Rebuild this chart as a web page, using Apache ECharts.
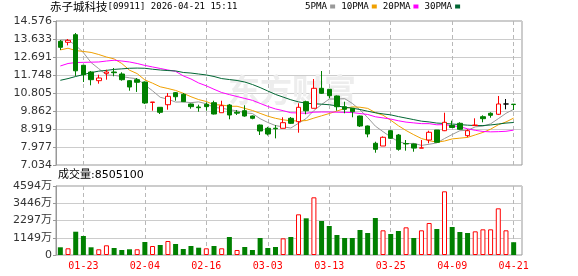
<!DOCTYPE html>
<html><head><meta charset="utf-8">
<script src="https://cdn.jsdelivr.net/npm/echarts@6/dist/echarts.min.js"></script>
<style>html,body{margin:0;padding:0;background:#fff}#c{width:578px;height:276px}</style>
</head><body><div id="c"></div>
<script>
const dates = ['01-20','01-21','01-22','01-23','01-26','01-27','01-28','01-29','01-30','02-02','02-03','02-04','02-05','02-06','02-09','02-10','02-11','02-12','02-13','02-16','02-20','02-23','02-24','02-25','02-26','02-27','03-02','03-03','03-04','03-05','03-06','03-09','03-10','03-11','03-12','03-13','03-16','03-17','03-18','03-19','03-20','03-23','03-24','03-25','03-26','03-27','03-30','03-31','04-01','04-02','04-08','04-09','04-10','04-13','04-14','04-15','04-16','04-17','04-20','04-21'];
const openP  = [13.513,13.46,13.858,12.256,11.905,11.45,11.837,11.905,11.80,11.45,11.502,11.38,10.31,10.056,10.192,10.82,10.737,10.229,10.072,10.213,10.297,9.773,10.176,9.80,9.878,9.60,9.129,8.956,8.96,8.956,9.48,9.302,10.349,10.004,11.051,10.999,10.648,10.087,10.004,9.60,9.077,8.17,8.029,8.83,8.605,8.16,8.134,7.92,8.343,8.867,8.83,9.11,9.218,8.57,9.10,9.564,9.742,9.69,10.229,10.22];
const closeP = [13.198,13.565,11.968,11.763,11.502,11.591,11.905,11.868,11.502,11.119,11.366,10.281,10.334,9.794,10.632,10.61,10.35,10.09,10.035,10.09,9.705,10.14,9.653,9.75,9.60,9.48,8.815,8.658,8.93,9.25,9.218,10.056,9.878,11.051,10.79,10.664,10.087,9.95,9.826,9.077,8.658,7.856,8.485,8.432,7.856,8.14,7.92,7.93,8.747,8.223,9.27,9.0,8.904,8.83,9.129,9.46,9.637,10.229,10.229,10.20];
const lowP   = [13.057,13.30,11.70,11.38,11.208,11.292,11.502,11.68,11.45,10.925,10.86,10.23,9.878,9.705,9.93,10.40,10.33,9.983,9.826,9.878,9.68,9.773,9.428,9.653,9.564,9.428,8.605,8.58,8.43,8.956,9.18,8.726,9.69,10.0,10.753,10.528,9.878,9.742,9.532,9.024,8.485,7.678,8.029,8.396,7.783,7.783,7.73,7.92,8.17,8.223,8.81,9.0,8.87,8.485,9.08,9.27,9.51,9.65,9.95,9.915];
const highP  = [13.58,13.633,13.948,12.27,11.957,11.763,12.025,12.114,11.89,11.485,11.59,11.41,10.334,10.07,10.805,10.857,10.80,10.255,10.192,10.318,10.40,10.40,10.23,9.915,10.16,9.627,9.155,9.03,9.13,9.532,9.548,10.266,10.40,11.538,11.957,11.0,10.674,10.35,10.02,9.62,9.10,8.254,8.53,8.867,8.658,8.343,8.16,8.343,8.83,8.867,9.773,9.355,9.27,8.904,9.48,9.638,9.794,10.648,10.49,10.22];
const ma5  = [13.58,13.58,13.30,12.92,12.40,12.08,11.75,11.73,11.67,11.60,11.55,11.23,10.92,10.58,10.48,10.33,10.34,10.30,10.34,10.24,10.05,10.01,9.93,9.87,9.77,9.73,9.46,9.26,9.10,9.03,8.97,9.22,9.47,9.89,10.20,10.49,10.49,10.51,10.26,9.92,9.52,9.07,8.78,8.50,8.26,8.15,8.17,8.06,8.12,8.19,8.42,8.63,8.83,8.85,9.03,9.07,9.19,9.46,9.74,9.95];
const ma10 = [13.06,13.15,13.03,12.98,12.93,12.82,12.69,12.59,12.35,12.00,11.82,11.49,11.32,11.13,11.04,10.94,10.79,10.61,10.46,10.36,10.19,10.18,10.11,10.11,10.00,9.89,9.74,9.59,9.48,9.40,9.35,9.34,9.36,9.49,9.61,9.73,9.86,9.99,10.08,10.06,10.00,9.78,9.64,9.38,9.09,8.84,8.62,8.42,8.31,8.23,8.29,8.40,8.44,8.48,8.61,8.74,8.91,9.14,9.29,9.49];
const ma20 = [12.22,12.35,12.40,12.41,12.42,12.43,12.48,12.52,12.48,12.43,12.35,12.25,12.17,12.09,12.01,11.94,11.70,11.54,11.33,11.18,11.00,10.83,10.72,10.62,10.52,10.42,10.26,10.10,9.97,9.88,9.77,9.76,9.74,9.80,9.81,9.81,9.80,9.79,9.78,9.73,9.68,9.56,9.50,9.44,9.35,9.28,9.24,9.20,9.20,9.14,9.15,9.09,9.04,8.93,8.85,8.79,8.77,8.78,8.80,8.86];
const ma30 = [11.47,11.56,11.67,11.77,11.87,11.95,11.99,12.04,12.07,12.10,12.11,12.10,12.05,12.01,11.98,11.96,11.88,11.85,11.80,11.75,11.67,11.56,11.51,11.46,11.38,11.25,11.09,10.91,10.73,10.59,10.45,10.34,10.27,10.24,10.22,10.19,10.13,10.06,10.01,9.94,9.85,9.77,9.71,9.66,9.57,9.49,9.41,9.33,9.29,9.23,9.21,9.18,9.15,9.12,9.10,9.10,9.13,9.18,9.23,9.26];
const volumes = [5130000,4460000,15510000,12650000,5130000,3800000,6460000,4660000,3330000,3800000,3800000,8660000,5990000,6660000,9320000,7320000,4000000,5990000,4860000,4460000,5990000,4460000,11980000,3330000,5330000,3330000,11320000,4660000,5330000,11100000,11980000,27080000,24430000,38400000,22640000,19310000,13320000,11320000,11320000,16650000,14650000,24630000,16430000,13980000,15980000,18420000,11320000,16430000,21310000,17310000,42400000,18640000,15310000,14650000,15760000,17090000,17090000,31070000,16430000,8505100];
const volUp = [0,1,0,0,0,1,1,0,0,0,1,0,1,0,1,0,0,0,0,1,0,1,0,1,0,0,0,0,0,1,0,1,0,1,0,0,0,0,0,0,0,0,1,0,0,1,0,1,1,0,1,0,0,0,1,1,1,1,1,0];
const priceTicks = ['7.034','7.977','8.919','9.862','10.805','11.748','12.691','13.633','14.576'];
const volTicks = ['0','1149万','2297万','3446万','4594万'];
const titleName = '赤子城科技';
const titleCode = '[09911] 2026-04-21 15:11';
const maNames = ['5PMA','10PMA','20PMA','30PMA'];

const RED = '#ff0000', GREEN = '#008000';
const maColors = ['#999999','#f0a000','#ff00ff','#006633'];
const labelIdx = (i) => i % 8 === 3;
const priceMin = parseFloat(priceTicks[0]), priceMax = parseFloat(priceTicks[priceTicks.length-1]);
const volMax = parseFloat(volTicks[volTicks.length-1]) * 10000;

const candleData = dates.map((d, i) => {
  const item = { value: [openP[i], closeP[i], lowP[i], highP[i]] };
  if (openP[i] === closeP[i]) item.itemStyle = { color: '#000', color0: '#000', borderColor: '#000', borderColor0: '#000' };
  return item;
});
const volData = volumes.map((v, i) => ({
  value: v,
  itemStyle: volUp[i] ? { color: '#fff', borderColor: RED, borderWidth: 1 } : { color: GREEN, borderColor: GREEN, borderWidth: 0 }
}));

const axisFont = { fontFamily: 'DejaVu Sans, Noto Sans CJK SC', fontSize: 11, color: '#333', fontWeight: 'normal' };
const frameY = (data) => ({
  type: 'category', data: data, boundaryGap: false,
  axisLine: { show: true, lineStyle: { color: '#999' } },
  axisTick: { show: true, length: 3, lineStyle: { color: '#999' }, interval: 0 },
  axisLabel: Object.assign({ margin: 4, interval: 0 }, axisFont),
  splitLine: { show: true, interval: 0, lineStyle: { color: '#cccccc', width: 1 } }
});
const dateSplit = { show: true, interval: labelIdx, alignWithLabel: true,
  lineStyle: { type: [4, 3], color: '#b8b8b8', width: 1 } };

const chart = echarts.init(document.getElementById('c'), null, { renderer: 'canvas' });
chart.setOption({
  animation: false,
  title: {
    left: 50, top: 1, padding: 0,
    text: '{a|' + titleName + '}{b|' + titleCode + '}',
    textStyle: { fontWeight: 'normal', rich: {
      a: { fontFamily: 'Noto Sans CJK SC', fontSize: 11.5, color: '#000', fontWeight: 'normal' },
      b: { fontFamily: 'DejaVu Sans Mono', fontSize: 9, color: '#000', fontWeight: 'normal' }
    } }
  },
  legend: {
    data: maNames, left: 305, top: 2, padding: 0, align: 'right', icon: 'rect',
    itemWidth: 5, itemHeight: 4, itemGap: 6, selectedMode: false,
    textStyle: { fontFamily: 'DejaVu Sans Mono', fontSize: 9.2, color: '#000', padding: [0, -2, 0, 0] }
  },
  graphic: [
    { type: 'text', left: 228, top: 74, z: 1, silent: true,
      style: { text: '东方财富', fontFamily: 'Noto Sans CJK SC', fontWeight: 'bold', fontSize: 32, fill: '#ededed' } },
    { type: 'text', left: 58, top: 170, silent: true,
      style: { text: '成交量:' + volumes[volumes.length-1], fontFamily: 'DejaVu Sans, Noto Sans CJK SC', fontSize: 11, fill: '#000' } }
  ],
  grid: [
    { left: 56, top: 21, width: 466, height: 144, show: true, borderColor: '#999', borderWidth: 1, backgroundColor: 'transparent' },
    { left: 56.5, top: 21, width: 461, height: 144 },
    { left: 56, top: 186, width: 466, height: 69, show: true, borderColor: '#999', borderWidth: 1, backgroundColor: 'transparent' },
    { left: 56.5, top: 186, width: 461, height: 69 }
  ],
  xAxis: [
    { type: 'value', gridIndex: 0, show: false },
    { type: 'category', gridIndex: 1, data: dates, boundaryGap: true,
      axisLine: { show: false }, axisLabel: { show: false, interval: labelIdx }, axisTick: { show: false }, splitLine: dateSplit },
    { type: 'value', gridIndex: 2, show: false },
    { type: 'category', gridIndex: 3, data: dates, boundaryGap: true,
      axisLine: { show: false }, axisTick: { show: false },
      axisLabel: { show: true, interval: labelIdx, margin: 6, color: RED, fontFamily: 'DejaVu Sans Mono', fontSize: 10 },
      splitLine: dateSplit }
  ],
  yAxis: [
    Object.assign(frameY(priceTicks), { gridIndex: 0 }),
    { type: 'value', gridIndex: 1, min: priceMin, max: priceMax, show: false, splitLine: { show: false } },
    Object.assign(frameY(volTicks), { gridIndex: 2 }),
    { type: 'value', gridIndex: 3, min: 0, max: volMax, show: false, splitLine: { show: false } }
  ],
  series: [
    ...[ma5, ma10, ma20, ma30].map((d, k) => ({
      name: maNames[k], type: 'line', xAxisIndex: 1, yAxisIndex: 1, data: d,
      showSymbol: false, symbol: 'none', z: 2,
      itemStyle: { color: maColors[k] }, lineStyle: { color: maColors[k], width: 1 }
    })),
    { type: 'candlestick', xAxisIndex: 1, yAxisIndex: 1, data: candleData, barWidth: 5, z: 5,
      itemStyle: { color: '#fff', color0: GREEN, borderColor: RED, borderColor0: GREEN, borderWidth: 1 } },
    { type: 'bar', xAxisIndex: 3, yAxisIndex: 3, data: volData, barWidth: 5, z: 5 }
  ]
});
</script></body></html>
